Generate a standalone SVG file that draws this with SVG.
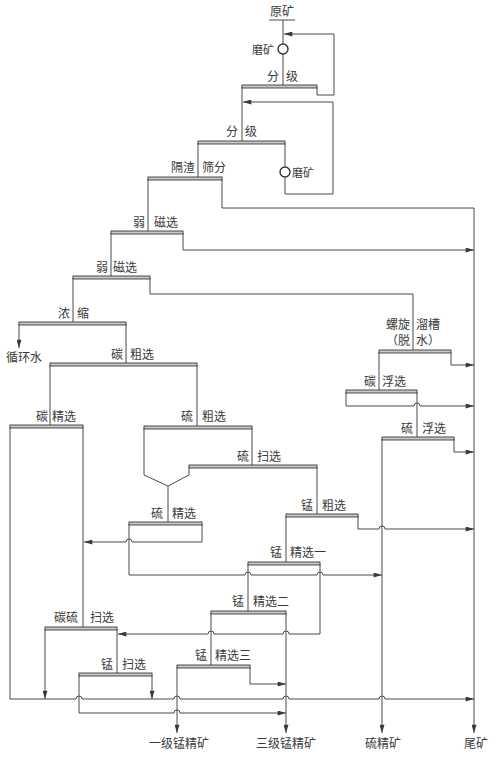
<svg xmlns="http://www.w3.org/2000/svg" width="497" height="759" viewBox="0 0 497 759">
<style>
.ln{fill:none;stroke:#4a4a4a;stroke-width:1}
.ar{marker-end:url(#ah)}
.bar{fill:#c8c8c8;stroke:#3a3a3a;stroke-width:0.9}
.mill{fill:#fff;stroke:#333;stroke-width:1.4}
text{font-family:"Noto Sans CJK SC","Noto Sans",sans-serif;font-size:12px;fill:#3a3a3a}
.e{text-anchor:end}
.m{text-anchor:middle}
</style>
<defs>
<marker id="ah" viewBox="0 0 10 6" refX="10" refY="3" markerWidth="9" markerHeight="5" orient="auto" markerUnits="userSpaceOnUse">
<path d="M0,0 L10,3 L0,6 z" fill="#3a3a3a"/>
</marker>
</defs>
<rect width="497" height="759" fill="#fff"/>

<g id="connectors">
<path class="ln" d="M283,20 V44 M283,54 V86"/>
<path class="ln ar" d="M317,87 V95 H334 V34 H284"/>
<path class="ln" d="M242,87 V142"/>
<path class="ln" d="M285,143 V167 M285,177 V194 H333 V102"/>
<path class="ln ar" d="M333,102 H243"/>
<path class="ln" d="M198,143 V178"/>
<path class="ln ar" d="M222,179 V208 H474 V733"/>
<path class="ln" d="M148,179 V232"/>
<path class="ln ar" d="M183,233 V250 H474"/>
<path class="ln" d="M111,233 V277"/>
<path class="ln" d="M150,278 V294 H413 V351"/>
<path class="ln" d="M73,278 V323"/>
<path class="ln ar" d="M19,324 V348"/>
<path class="ln" d="M126,324 V364"/>
<path class="ln" d="M50,365 V426"/>
<path class="ln" d="M197,365 V427"/>
<path class="ln ar" d="M10,427 V699 H76 a3,3 0 0 1 6,0 H174 a3,3 0 0 1 6,0 H283 a3,3 0 0 1 6,0 H379 a3,3 0 0 1 6,0 H474"/>
<path class="ln" d="M83,427 V628"/>
<path class="ln" d="M252,428 V466"/>
<path class="ln" d="M144,428 V475 L168,486 L189,475 V467"/>
<path class="ln" d="M168,486 V523"/>
<path class="ln" d="M317,467 V515"/>
<path class="ln ar" d="M202,524 V542 H132 a3,3 0 0 0 -6,0 H84"/>
<path class="ln ar" d="M129,524 V575 H245 a3,3 0 0 1 6,0 H317 a3,3 0 0 1 6,0 H382"/>
<path class="ln ar" d="M358,516 V529 H379 a3,3 0 0 1 6,0 H474"/>
<path class="ln" d="M286,516 V563"/>
<path class="ln" d="M248,564 V612"/>
<path class="ln ar" d="M320,564 V634 H289 a3,3 0 0 0 -6,0 H214 a3,3 0 0 0 -6,0 H118"/>
<path class="ln ar" d="M286,613 V733"/>
<path class="ln" d="M211,613 V666"/>
<path class="ln ar" d="M250,667 V684 H286"/>
<path class="ln ar" d="M177,667 V733"/>
<path class="ln ar" d="M45,629 V699"/>
<path class="ln" d="M117,629 V674"/>
<path class="ln ar" d="M152,675 V699"/>
<path class="ln ar" d="M79,675 V713 H174 a3,3 0 0 1 6,0 H286"/>
<path class="ln ar" d="M451,352 V365 H474"/>
<path class="ln" d="M379,352 V391"/>
<path class="ln ar" d="M346,392 V406 H414 a3,3 0 0 1 6,0 H474"/>
<path class="ln" d="M417,392 V438"/>
<path class="ln ar" d="M454,439 V452 H474"/>
<path class="ln ar" d="M382,439 V733"/>
</g>

<g id="n-ore"><text class="m" x="282" y="16">原矿</text><path class="ln" d="M269,20 H295"/></g>
<g id="n-mill1"><circle class="mill" cx="283" cy="49" r="5"/><text class="e" x="274" y="54" style="font-size:11px">磨矿</text></g>
<g id="n-class1"><rect class="bar" x="242" y="85" width="75" height="3"/><text class="e" x="279" y="81">分</text><text x="286" y="81">级</text></g>
<g id="n-class2"><rect class="bar" x="198" y="141" width="87" height="3"/><text class="e" x="238" y="136">分</text><text x="245" y="136">级</text></g>
<g id="n-mill2"><circle class="mill" cx="285" cy="172" r="5"/><text x="292" y="177" style="font-size:11px">磨矿</text></g>
<g id="n-screen"><rect class="bar" x="148" y="177" width="74" height="3"/><text class="e" x="195" y="172">隔渣</text><text x="202" y="172">筛分</text></g>
<g id="n-mag1"><rect class="bar" x="111" y="231" width="72" height="3"/><text class="e" x="145" y="227">弱</text><text x="154" y="227">磁选</text></g>
<g id="n-mag2"><rect class="bar" x="73" y="276" width="77" height="3"/><text class="e" x="108" y="272">弱</text><text x="113" y="272">磁选</text></g>
<g id="n-thick"><rect class="bar" x="19" y="322" width="107" height="3"/><text class="e" x="70" y="318">浓</text><text x="77" y="318">缩</text></g>
<g id="n-water"><text x="6" y="362">循环水</text></g>
<g id="n-crough"><rect class="bar" x="50" y="363" width="147" height="3"/><text class="e" x="123" y="359">碳</text><text x="130" y="359">粗选</text></g>
<g id="n-cclean"><rect class="bar" x="10" y="425" width="73" height="3"/><text class="e" x="48" y="421">碳</text><text x="52" y="421">精选</text></g>
<g id="n-srough"><rect class="bar" x="144" y="426" width="108" height="3"/><text class="e" x="193" y="421">硫</text><text x="202" y="421">粗选</text></g>
<g id="n-sscav"><rect class="bar" x="189" y="465" width="128" height="3"/><text class="e" x="249" y="461">硫</text><text x="257" y="461">扫选</text></g>
<g id="n-sclean"><rect class="bar" x="129" y="522" width="73" height="3"/><text class="e" x="163" y="518">硫</text><text x="172" y="518">精选</text></g>
<g id="n-mrough"><rect class="bar" x="286" y="514" width="72" height="3"/><text class="e" x="313" y="510">锰</text><text x="322" y="510">粗选</text></g>
<g id="n-m1"><rect class="bar" x="248" y="562" width="72" height="3"/><text class="e" x="282" y="557">锰</text><text x="290" y="557">精选一</text></g>
<g id="n-m2"><rect class="bar" x="211" y="611" width="75" height="3"/><text class="e" x="244" y="606">锰</text><text x="253" y="606">精选二</text></g>
<g id="n-m3"><rect class="bar" x="177" y="665" width="73" height="3"/><text class="e" x="207" y="660">锰</text><text x="215" y="660">精选三</text></g>
<g id="n-csscav"><rect class="bar" x="45" y="627" width="72" height="3"/><text class="e" x="78" y="622">碳硫</text><text x="90" y="622">扫选</text></g>
<g id="n-mscav"><rect class="bar" x="79" y="673" width="73" height="3"/><text class="e" x="113" y="669">锰</text><text x="122" y="669">扫选</text></g>
<g id="n-spiral"><rect class="bar" x="379" y="350" width="72" height="3"/><text class="e" x="410" y="329">螺旋</text><text x="416" y="329">溜槽</text><text class="e" x="410" y="345">（脱</text><text x="416" y="345">水）</text></g>
<g id="n-cflot"><rect class="bar" x="346" y="390" width="71" height="3"/><text class="e" x="376" y="386">碳</text><text x="382" y="386">浮选</text></g>
<g id="n-sflot"><rect class="bar" x="382" y="437" width="72" height="3"/><text class="e" x="413" y="433">硫</text><text x="422" y="433">浮选</text></g>
<g id="n-p1"><text class="m" x="179" y="748">一级锰精矿</text></g>
<g id="n-p3"><text class="m" x="286" y="748">三级锰精矿</text></g>
<g id="n-ps"><text class="m" x="383" y="748">硫精矿</text></g>
<g id="n-tail"><text class="m" x="476" y="748">尾矿</text></g>
</svg>
